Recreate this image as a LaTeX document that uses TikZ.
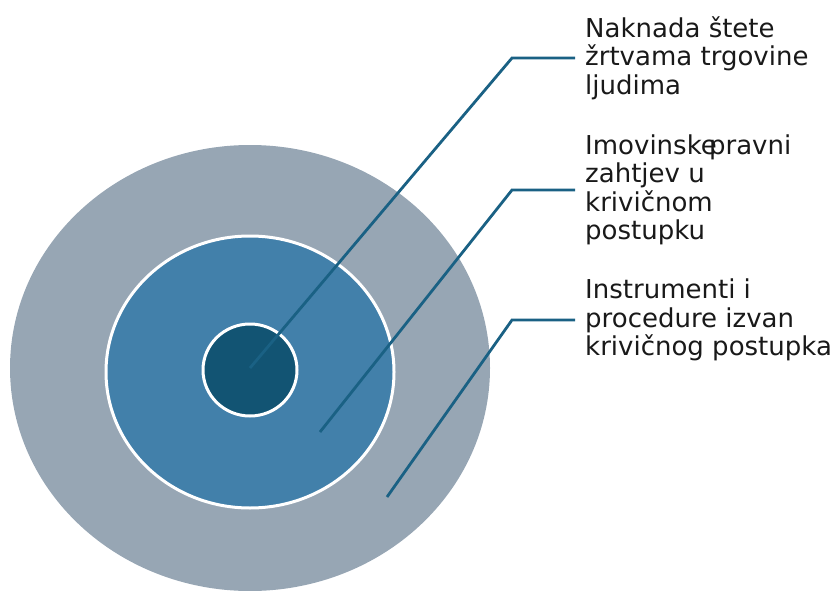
\documentclass[tikz,border=0pt]{standalone}
\usepackage{fontspec}
\setmainfont{DejaVu Sans}
\usetikzlibrary{positioning}
\definecolor{outerring}{HTML}{97A6B4}
\definecolor{middlering}{HTML}{4280AA}
\definecolor{innerring}{HTML}{125473}
\definecolor{leader}{HTML}{1A6184}
\tikzset{
  ring/.style={draw=white, line width=3pt},
  leaderline/.style={draw=leader, line width=2.8pt},
  label text/.style={anchor=west, align=left, inner sep=0pt, text=black!90,
    font=\fontsize{26}{28.5}\selectfont}
}

\begin{document}
\begin{tikzpicture}[x=1pt, y=-1pt]
  \useasboundingbox (0,0) rectangle (832,591);

  \fill[outerring] (250,368) ellipse [x radius=240, y radius=223];
  \filldraw[ring, fill=middlering] (250,372) ellipse [x radius=144, y radius=136];
  \filldraw[ring, fill=innerring] (250,370) ellipse [x radius=47, y radius=46];

  \node[label text] (damages) at (585,58) {Naknada štete\\žrtvama trgovine\\ljudima};
  \node[label text] (claim) at (585,190) {Imovinske\kern-0.3em pravni\\zahtjev u\\krivičnom\\postupku};
  \node[label text] (outside) at (585,320) {Instrumenti i\\procedure izvan\\krivičnog postupka};

  \coordinate (p1) at (250,368);
  \coordinate (p2) at (320,432);
  \coordinate (p3) at (387,497);

  \draw[leaderline] (p1) -- ([xshift=-73pt]damages.west) -- ([xshift=-10pt]damages.west);
  \draw[leaderline] (p2) -- ([xshift=-73pt]claim.west) -- ([xshift=-10pt]claim.west);
  \draw[leaderline] (p3) -- ([xshift=-73pt]outside.west) -- ([xshift=-10pt]outside.west);
\end{tikzpicture}
\end{document}
